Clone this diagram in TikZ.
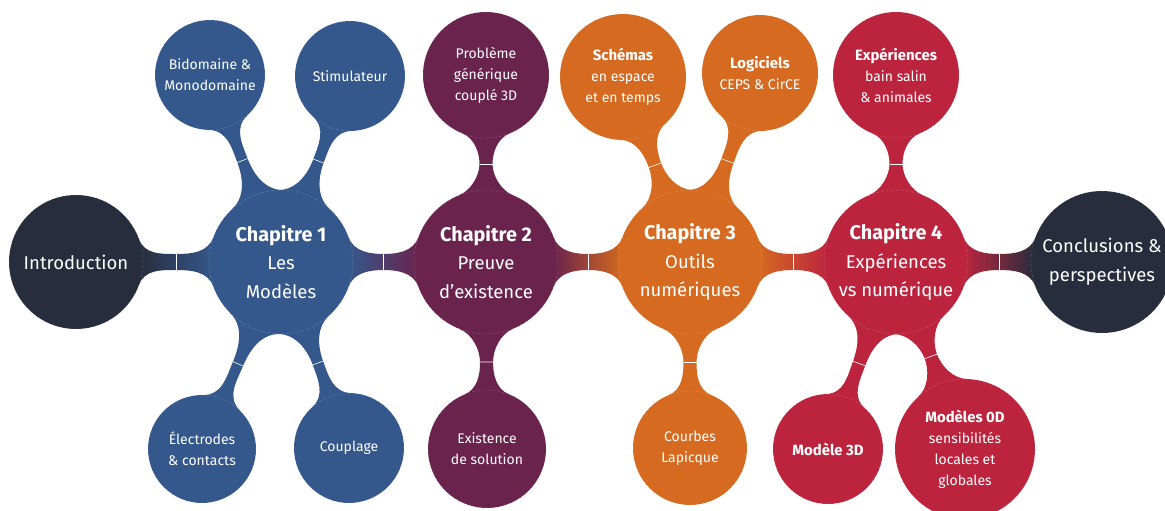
\documentclass[tikz,border=0pt]{standalone}
\usepackage{fontspec}
\setmainfont{Fira Sans}
\usetikzlibrary{calc,backgrounds}
\definecolor{cdark}{RGB}{39,45,60}
\definecolor{cblue}{RGB}{53,88,140}
\definecolor{cpurple}{RGB}{106,35,77}
\definecolor{corange}{RGB}{213,106,32}
\definecolor{cred}{RGB}{188,36,62}
\newcommand\mainbold[1]{{\fontsize{19.8}{28.5}\selectfont\bfseries #1}}
\newcommand\satbold[1]{{\fontsize{14.9}{21}\selectfont\bfseries #1}}
% #1 A, #2 B, #3 rA, #4 rB, #5 half width, #6 angle, #7 colour A, #8 colour B
\newcommand\neck[8]{%
  \path let \p1=($(#2)-(#1)$), \n1={veclen(\x1,\y1)},
            \n2={#3+(\n1-#3-#4)/2}, \n3={(\n1-#3-#4)*0.22}, \n4={(\n1-#3-#4)*0.25} in
    ($(#1)!#3pt!#6:(#2)$) coordinate (pa1)
    ($(#1)!#3pt!-#6:(#2)$) coordinate (pa2)
    ($(#2)!#4pt!-#6:(#1)$) coordinate (pb1)
    ($(#2)!#4pt!#6:(#1)$) coordinate (pb2)
    ($(#1)!\n2!(#2)!#5pt!90:(#2)$) coordinate (n1)
    ($(#1)!\n2!(#2)!#5pt!-90:(#2)$) coordinate (n2)
    ($(#1)!\n2-\n3!(#2)!#5pt!90:(#2)$) coordinate (nl1)
    ($(#1)!\n2-\n3!(#2)!#5pt!-90:(#2)$) coordinate (nl2)
    ($(#1)!\n2+\n3!(#2)!#5pt!90:(#2)$) coordinate (nr1)
    ($(#1)!\n2+\n3!(#2)!#5pt!-90:(#2)$) coordinate (nr2)
    ($(pa1)!\n4!90:(#1)$) coordinate (ca1)
    ($(pa2)!\n4!-90:(#1)$) coordinate (ca2)
    ($(pb1)!\n4!-90:(#2)$) coordinate (cb1)
    ($(pb2)!\n4!90:(#2)$) coordinate (cb2);
  \shade[left color=#7, right color=#8]
    (pa1) .. controls (ca1) and (nl1) .. (n1) .. controls (nr1) and (cb1) .. (pb1)
    -- (pb2) .. controls (cb2) and (nr2) .. (n2) .. controls (nl2) and (ca2) .. (pa2) -- cycle;
  \draw[tick] (n1) -- (n2);
}
\begin{document}
\begin{tikzpicture}[x=1pt,y=-1pt,
  ball/.style={circle, inner sep=0pt, draw=white, draw opacity=0.2, densely dashed, line width=0.5pt},
  tick/.style={draw=white, line width=0.6pt},
  mtxt/.style={text=white, align=center, font=\fontsize{18.5}{28.5}\selectfont},
  stxt/.style={text=white, align=center, font=\fontsize{14}{21}\selectfont}]
\useasboundingbox (0,0) rectangle (1165,511);
% main circles
\node[ball, fill=cdark, minimum size=134pt] (intro) at (76,262) {};
\node[ball, fill=cblue, minimum size=144pt] (ch1) at (281,262) {};
\node[ball, fill=cpurple, minimum size=144pt] (ch2) at (486,262) {};
\node[ball, fill=corange, minimum size=144pt] (ch3) at (690,262) {};
\node[ball, fill=cred, minimum size=144pt] (ch4) at (896,262) {};
\node[ball, fill=cdark, minimum size=142pt] (concl) at (1102,262) {};
% satellites
\node[ball, fill=cblue, minimum size=110pt] (bid) at (210,75) {};
\node[ball, fill=cblue, minimum size=110pt] (stim) at (350,76) {};
\node[ball, fill=cblue, minimum size=108pt] (elec) at (202,449) {};
\node[ball, fill=cblue, minimum size=110pt] (coup) at (349,448) {};
\node[ball, fill=cpurple, minimum size=126pt] (prob) at (486,75) {};
\node[ball, fill=cpurple, minimum size=118pt] (exist) at (487,449) {};
\node[ball, fill=corange, minimum size=126pt] (schem) at (623,77) {};
\node[ball, fill=corange, minimum size=116pt] (logi) at (760,73) {};
\node[ball, fill=corange, minimum size=114pt] (courb) at (690,448) {};
\node[ball, fill=cred, minimum size=126pt] (exp) at (896,75) {};
\node[ball, fill=cred, minimum size=110pt] (m3d) at (828,449) {};
\node[ball, fill=cred, minimum size=140pt] (m0d) at (965,449) {};
% texts
\node[mtxt] (t-intro) at (intro) {Introduction};
\node[mtxt] (t-ch1) at (ch1) {\mainbold{Chapitre 1}\\Les\\Modèles};
\node[mtxt] (t-ch2) at (ch2) {\mainbold{Chapitre 2}\\Preuve\\d’existence};
\node[mtxt] (t-ch3) at (ch3) {\mainbold{Chapitre 3}\\Outils\\numériques};
\node[mtxt] (t-ch4) at (ch4) {\mainbold{Chapitre 4}\\Expériences\\vs numérique};
\node[mtxt] (t-concl) at (concl) {Conclusions \&\\perspectives};
\node[stxt] (t-bid) at (bid) {Bidomaine \&\\Monodomaine};
\node[stxt] (t-stim) at (stim) {Stimulateur};
\node[stxt] (t-elec) at (elec) {Électrodes\\\& contacts};
\node[stxt] (t-coup) at (coup) {Couplage};
\node[stxt] (t-prob) at (prob) {Problème\\générique\\couplé 3D};
\node[stxt] (t-exist) at (exist) {Existence\\de solution};
\node[stxt] (t-schem) at (schem) {\satbold{Schémas}\\en espace\\et en temps};
\node[stxt] (t-logi) at (logi) {\satbold{Logiciels}\\CEPS \& CirCE};
\node[stxt] (t-courb) at (courb) {Courbes\\Lapicque};
\node[stxt] (t-exp) at (exp) {\satbold{Expériences}\\bain salin\\\& animales};
\node[stxt] (t-m3d) at (m3d) {\satbold{Modèle 3D}};
\node[stxt] (t-m0d) at (m0d) {\satbold{Modèles 0D}\\sensibilités\\locales et\\globales};
% connectors
\begin{pgfonlayer}{background}
\neck{intro}{ch1}{67}{72}{8}{20}{cdark}{cblue}
\neck{ch1}{ch2}{72}{72}{8}{20}{cblue}{cpurple}
\neck{ch2}{ch3}{72}{72}{8}{20}{cpurple}{corange}
\neck{ch3}{ch4}{72}{72}{8}{20}{corange}{cred}
\neck{ch4}{concl}{72}{71}{8}{20}{cred}{cdark}
\neck{ch1}{bid}{72}{55}{5.5}{22}{cblue}{cblue}
\neck{ch1}{stim}{72}{55}{5.5}{22}{cblue}{cblue}
\neck{ch1}{elec}{72}{54}{5.5}{22}{cblue}{cblue}
\neck{ch1}{coup}{72}{55}{5.5}{22}{cblue}{cblue}
\neck{ch2}{prob}{72}{63}{6.5}{22}{cpurple}{cpurple}
\neck{ch2}{exist}{72}{59}{6.5}{22}{cpurple}{cpurple}
\neck{ch3}{schem}{72}{63}{6.5}{22}{corange}{corange}
\neck{ch3}{logi}{72}{58}{6.5}{22}{corange}{corange}
\neck{ch3}{courb}{72}{57}{6.5}{22}{corange}{corange}
\neck{ch4}{exp}{72}{63}{6.5}{22}{cred}{cred}
\neck{ch4}{m3d}{72}{55}{6.5}{22}{cred}{cred}
\neck{ch4}{m0d}{72}{70}{6.5}{22}{cred}{cred}
\end{pgfonlayer}
\end{tikzpicture}
\end{document}
